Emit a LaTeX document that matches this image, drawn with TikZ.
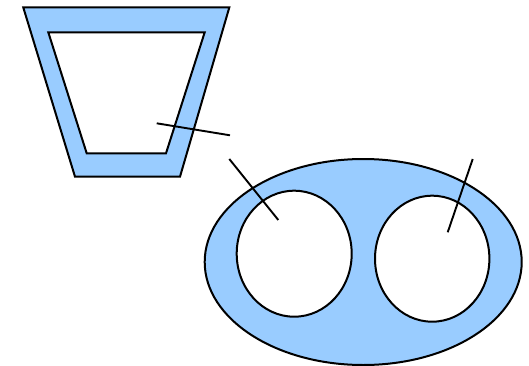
\documentclass[tikz,border=0pt]{standalone}
\definecolor{lblue}{HTML}{99CCFF}
\begin{document}
\begin{tikzpicture}[x=1pt,y=-1pt,line width=2pt,
  bluearea/.style={draw=black,fill=lblue,even odd rule,line join=miter},
  leader/.style={draw=black,line width=1.9pt}]
\useasboundingbox (0,0) rectangle (529,366);
% trapezoid with hole
\path[bluearea] (23.3,7.5) -- (229.3,7.5) -- (180,176.7) -- (75,176.7) -- cycle
  (48.3,32.3) -- (204.7,32.3) -- (166,153.3) -- (86.7,153.3) -- cycle;
% ellipse with two holes
\path[bluearea] (363.2,262) ellipse [x radius=158.5, y radius=103]
  (294.2,253.7) ellipse [x radius=57.5, y radius=63]
  (432.2,258.7) ellipse [x radius=57.2, y radius=63];
% leader lines
\coordinate (a1) at (156.7,123.3); \coordinate (a2) at (230,135.3);
\coordinate (b1) at (229.3,159); \coordinate (b2) at (278.3,220);
\coordinate (c1) at (472.7,159); \coordinate (c2) at (447.7,232.3);
\draw[leader] (a1) -- (a2);
\draw[leader] (b1) -- (b2);
\draw[leader] (c1) -- (c2);
\end{tikzpicture}
\end{document}
